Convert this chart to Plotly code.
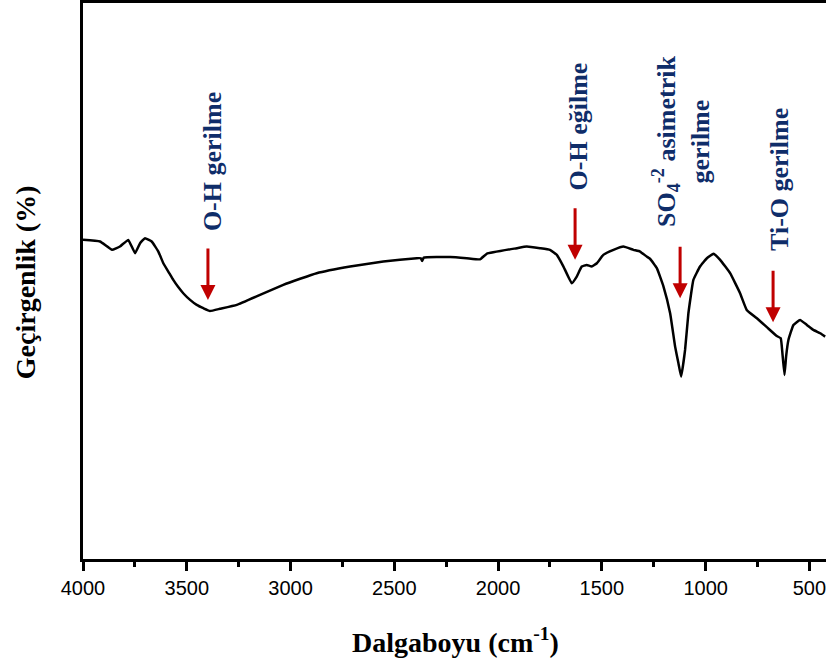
import plotly.graph_objects as go

# Wavenumber (cm^-1) and transmittance (%)
wavenumber = [4000, 3918, 3860, 3822, 3782, 3749, 3725, 3701, 3669, 3637, 3613, 3589,
              3565, 3541, 3517, 3484, 3452, 3420, 3388, 3340, 3259, 3147, 3035, 2954,
              2874, 2713, 2553, 2392, 2372, 2366, 2358, 2231, 2151, 2087, 2055, 1910,
              1862, 1798, 1750, 1717, 1685, 1645, 1621, 1597, 1573, 1549, 1524, 1493,
              1444, 1396, 1348, 1316, 1284, 1268, 1235, 1203, 1171, 1147, 1131, 1118,
              1099, 1083, 1059, 1027, 994, 962, 930, 882, 834, 802, 753, 705, 657, 638,
              630, 620, 612, 601, 577, 545, 512, 481, 448, 424]
transmittance = [57.4, 57.1, 55.6, 56.2, 57.4, 55.0, 56.8, 57.7, 57.1, 55.3, 53.2, 51.7,
                 50.2, 48.9, 47.8, 46.6, 45.7, 45.1, 44.6, 45.0, 45.7, 47.5, 49.3, 50.4,
                 51.4, 52.6, 53.5, 54.1, 54.1, 53.6, 54.2, 54.3, 54.1, 53.9, 54.9, 55.9,
                 56.2, 55.9, 55.6, 54.7, 52.6, 49.6, 50.8, 52.6, 52.9, 52.6, 53.2, 54.7,
                 55.6, 56.2, 55.6, 55.3, 54.4, 54.0, 52.3, 49.0, 44.2, 38.2, 35.2, 32.8,
                 37.6, 44.2, 50.2, 52.6, 54.1, 54.9, 53.8, 51.4, 47.8, 44.8, 43.3, 41.7,
                 40.1, 39.7, 37.0, 33.1, 36.5, 39.4, 42.1, 43.0, 42.1, 41.2, 40.6, 40.0]

# Band labels: text, text position (wavenumber, T), arrow tip (wavenumber, T)
band_labels = ["O-H gerilme", "O-H eğilme",
               "SO<sub>4</sub><sup>-2</sup> asimetrik<br>gerilme", "Ti-O gerilme"]
label_x = [3378, 1615, 1116, 641]
label_y = [71.4, 77.8, 75.1, 68.2]
arrow_x = [3398, 1629, 1123, 675]
arrow_y = [46.6, 53.8, 46.9, 42.6]

x_ticks = [4000, 3500, 3000, 2500, 2000, 1500, 1000, 500]

serif = "Liberation Serif"
navy = "#0f2d69"
red = "#c00000"

fig = go.Figure()
fig.add_trace(go.Scatter(x=wavenumber, y=transmittance, mode="lines",
                         line=dict(color="black", width=2.5, shape="spline", smoothing=0.3),
                         showlegend=False))

annotations = []
for t, lx, ly in zip(band_labels, label_x, label_y):
    annotations.append(dict(x=lx, y=ly, xref="x", yref="y", text="<b>%s</b>" % t,
                            textangle=-90, showarrow=False, align="center",
                            xanchor="center", yanchor="middle",
                            font=dict(family=serif, size=26, color=navy)))
for axx, axy in zip(arrow_x, arrow_y):
    annotations.append(dict(x=axx, y=axy, xref="x", yref="y", text="",
                            showarrow=True, arrowhead=2, arrowsize=1, arrowwidth=3,
                            arrowcolor=red, ax=0, ay=-53, standoff=0))

annotations.append(dict(x=0.502, y=-0.146, xref="paper", yref="paper",
                        text="<b>Dalgaboyu (cm<sup>-1</sup>)</b>", showarrow=False,
                        xanchor="center", yanchor="middle",
                        font=dict(family=serif, size=28, color="black")))
annotations.append(dict(x=-0.078, y=0.498, xref="paper", yref="paper",
                        text="<b>Geçirgenlik (%)</b>", showarrow=False, textangle=-90,
                        xanchor="center", yanchor="middle",
                        font=dict(family=serif, size=28, color="black")))

fig.update_layout(
    width=826, height=666,
    margin=dict(l=83, r=0, t=3, b=107),
    paper_bgcolor="white", plot_bgcolor="white",
    annotations=annotations,
    xaxis=dict(range=[4000, 420], tickvals=x_ticks, ticktext=[str(v) for v in x_ticks],
               ticklabeloverflow="allow",
               showgrid=False, zeroline=False, showline=True, linecolor="black",
               linewidth=3, mirror=True, ticks="outside", ticklen=9, tickwidth=3,
               tickcolor="black",
               minor=dict(dtick=250, tick0=0, ticks="outside", ticklen=5, tickwidth=3,
                          tickcolor="black", showgrid=False),
               tickfont=dict(family="Liberation Sans", size=20, color="black")),
    yaxis=dict(range=[0, 100], showticklabels=False, showgrid=False, zeroline=False,
               showline=True, linecolor="black", linewidth=3, ticks=""),
)

fig.write_html("out.html")
